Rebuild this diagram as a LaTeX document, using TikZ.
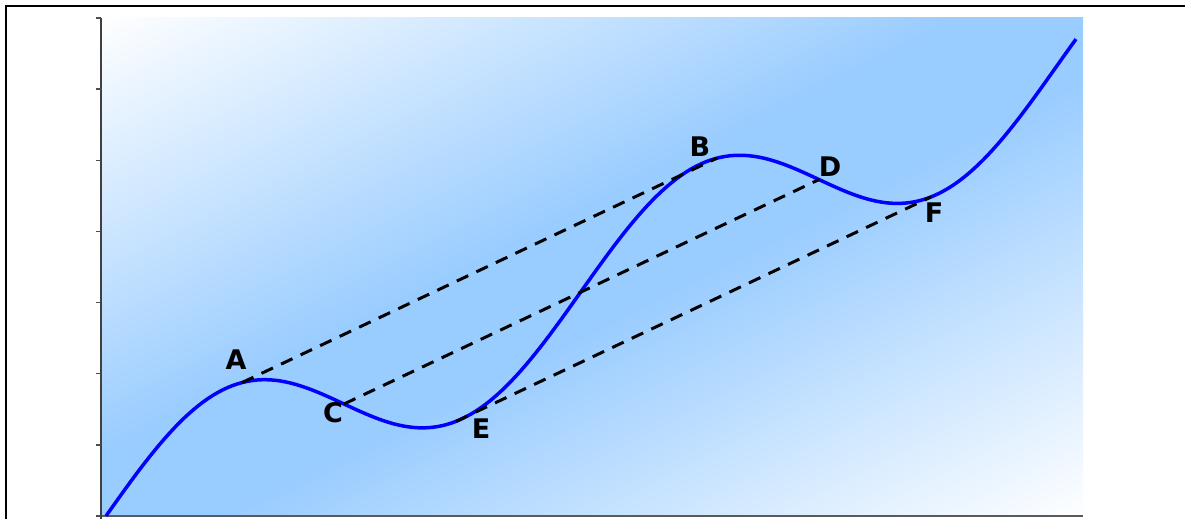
\documentclass[tikz,border=0pt]{standalone}
\usepackage{fontspec}
\newfontfamily\lblfont{DejaVu Sans}
\usetikzlibrary{calc}
\definecolor{bandblue}{RGB}{153,204,255}
\definecolor{axisgray}{RGB}{90,90,90}
\pgfdeclareverticalshading{plotband}{100bp}{color(0bp)=(white); color(25bp)=(white); color(47bp)=(bandblue); color(53bp)=(bandblue); color(75bp)=(white); color(100bp)=(white)}

\begin{document}
\begin{tikzpicture}[x=0.5pt,y=-0.5pt,
 declare function={f(\u)=516-0.4725*(\u-106)-71*sin(0.757895*(\u-106));},
 curve/.style={blue,line width=1.75pt,line join=round},
 chord/.style={black,line width=1.5pt,dash pattern=on 6.3pt off 4.5pt},
 lbl/.style={font=\lblfont\bfseries\fontsize{13.5}{14}\selectfont,inner sep=0pt},
 axtick/.style={black!70,line width=0.75pt}]
\useasboundingbox (0,0) rectangle (1185,519);
\draw[line width=1pt] (6,519) -- (6,6) -- (1185,6);
% background of the plot area
\begin{scope}
 \clip (101,18) rectangle (1083,516);
 \shade[shading=plotband,transform canvas={rotate around={26.9:(592,267)}}] (-150,-180) rectangle (1334,714);
\end{scope}
\draw[axisgray,line width=1pt] (96,515.5) -- (1083,515.5);
\draw[black!75,line width=0.75pt] (101,18) -- (101,519);
\foreach \k in {0,...,7}{\draw[axtick] (96,{18+71.14*\k}) -- (101,{18+71.14*\k});}
\draw[curve] plot[domain=106:1076,samples=200] (\x,{f(\x)});
\coordinate (A) at (242,{f(242)});
\coordinate (B) at (717,{f(717)});
\coordinate (C) at (344,{f(344)});
\coordinate (D) at (819,{f(819)});
\coordinate (E) at (456,{f(456)});
\coordinate (F) at (931,{f(931)});
\foreach \p/\q in {A/B,C/D,E/F}{\draw[chord] (\p) -- (\q);}
\node[lbl] (lblA) at (236,360) {A};
\node[lbl] (lblB) at (700,147) {B};
\node[lbl] (lblC) at (333,413) {C};
\node[lbl] (lblD) at (830,167) {D};
\node[lbl] (lblE) at (481,429) {E};
\node[lbl] (lblF) at (934,213) {F};
\end{tikzpicture}
\end{document}
